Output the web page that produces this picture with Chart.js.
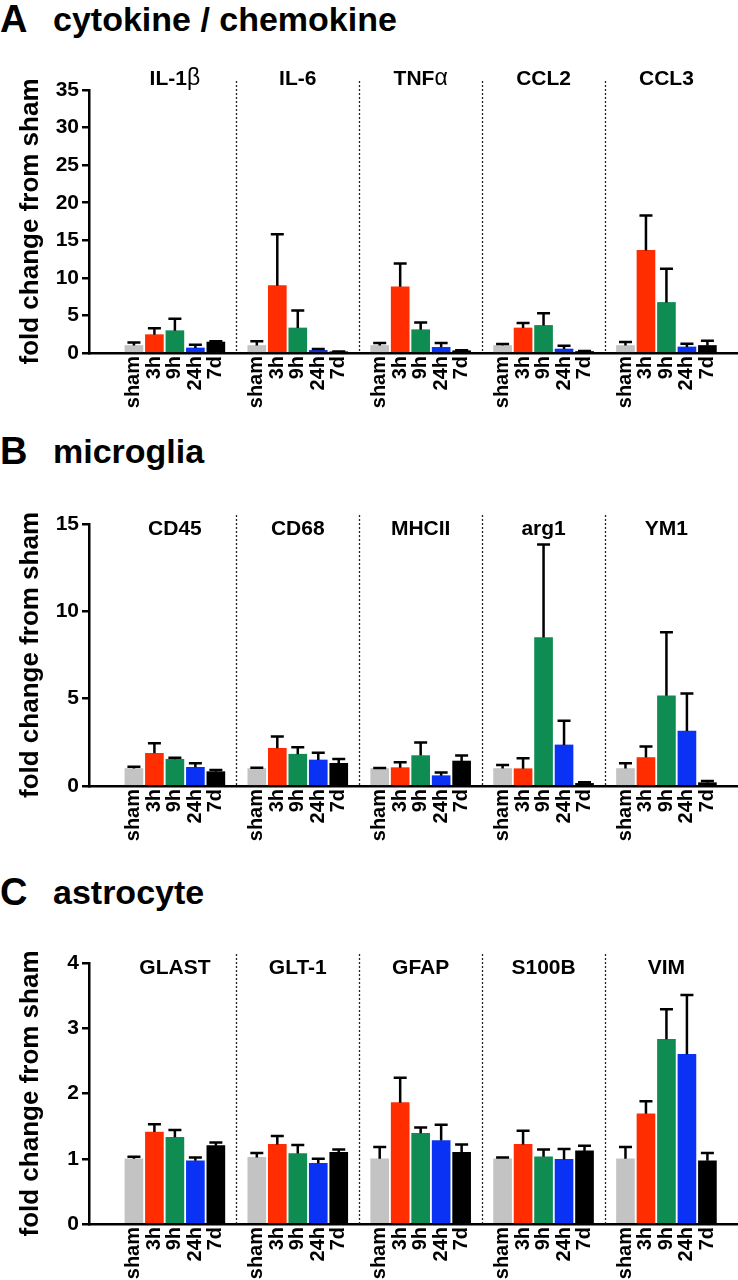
<!DOCTYPE html>
<html><head><meta charset="utf-8">
<script src="https://cdn.jsdelivr.net/npm/chart.js@4.4.1/dist/chart.umd.min.js"></script>
<style>
body{margin:0;background:#fff;width:738px;height:1280px;position:relative;overflow:hidden;font-family:"Liberation Sans",Arial,sans-serif;}
.ttl{position:absolute;font-weight:bold;color:#000;white-space:nowrap;line-height:1;}
.cv{position:absolute;left:0;width:738px;}
</style></head><body>
<div class="ttl" style="left:0;top:0;font-size:38px">A</div>
<div class="ttl" style="left:53px;top:2px;font-size:34px">cytokine / chemokine</div>
<div class="ttl" style="left:0;top:432px;font-size:38px">B</div>
<div class="ttl" style="left:53px;top:434px;font-size:34px">microglia</div>
<div class="ttl" style="left:0;top:873px;font-size:38px">C</div>
<div class="ttl" style="left:53px;top:875px;font-size:34px">astrocyte</div>
<div class="cv" style="top:45px;height:375px"><canvas id="cA"></canvas></div>
<div class="cv" style="top:470px;height:390px"><canvas id="cB"></canvas></div>
<div class="cv" style="top:910px;height:370px"><canvas id="cC"></canvas></div>
<script>
// ---- data ----
const timeLabels = ['sham', '3h', '9h', '24h', '7d'];

const genesA = ['IL-1β', 'IL-6', 'TNFα', 'CCL2', 'CCL3'];
const meanA = [
  [1.0, 2.44, 2.97, 0.67, 1.46],
  [1.0, 8.96, 3.33, 0.35, 0.13],
  [1.0, 8.8, 3.1, 0.75, 0.3],
  [1.0, 3.33, 3.67, 0.53, 0.2],
  [1.0, 13.65, 6.73, 0.8, 1.0]
];
const semA = [
  [0.4, 0.86, 1.6, 0.43, 0.09],
  [0.55, 6.84, 2.34, 0.18, 0.07],
  [0.33, 3.1, 0.97, 0.58, 0.05],
  [0.2, 0.67, 1.63, 0.44, 0.05],
  [0.46, 4.65, 4.47, 0.44, 0.64]
];
const yTicksA = [0, 5, 10, 15, 20, 25, 30, 35];

const genesB = ['CD45', 'CD68', 'MHCII', 'arg1', 'YM1'];
const meanB = [
  [1.0, 1.87, 1.53, 1.07, 0.82],
  [1.0, 2.16, 1.82, 1.49, 1.3],
  [1.0, 1.05, 1.74, 0.59, 1.43],
  [1.0, 0.99, 8.5, 2.35, 0.15],
  [1.0, 1.63, 5.16, 3.15, 0.19]
];
const semB = [
  [0.1, 0.58, 0.09, 0.23, 0.1],
  [0.05, 0.67, 0.4, 0.42, 0.25],
  [0.03, 0.31, 0.75, 0.19, 0.31],
  [0.2, 0.6, 5.32, 1.38, 0.06],
  [0.3, 0.63, 3.64, 2.15, 0.1]
];
const yTicksB = [0, 5, 10, 15];

const genesC = ['GLAST', 'GLT-1', 'GFAP', 'S100B', 'VIM'];
const meanC = [
  [1.0, 1.41, 1.33, 0.97, 1.2],
  [1.02, 1.22, 1.08, 0.93, 1.1],
  [1.0, 1.86, 1.39, 1.28, 1.1],
  [1.0, 1.22, 1.03, 0.99, 1.12],
  [1.0, 1.69, 2.83, 2.6, 0.97]
];
const semC = [
  [0.03, 0.12, 0.11, 0.05, 0.05],
  [0.07, 0.13, 0.13, 0.07, 0.04],
  [0.18, 0.38, 0.09, 0.24, 0.12],
  [0.02, 0.21, 0.11, 0.16, 0.08],
  [0.18, 0.19, 0.46, 0.91, 0.12]
];
const yTicksC = [0, 1, 2, 3, 4];

// ---- style ----
const barColors = ['#c3c3c3', '#ff2d00', '#0e8c52', '#0a32f5', '#000000'];
const FONT = '"Liberation Sans", Arial, sans-serif';
Chart.defaults.font.family = FONT;
Chart.defaults.color = '#000';

function overlayPlugin(genes, sem, labelDy) {
  return {
    id: 'overlay',
    afterDatasetsDraw(chart) {
      const ctx = chart.ctx, xs = chart.scales.x, ys = chart.scales.y, area = chart.chartArea;
      const meta = chart.getDatasetMeta(0);
      const raw = chart.data.datasets[0].data;
      ctx.save();
      // dotted separators
      ctx.strokeStyle = '#222';
      ctx.lineWidth = 1.3;
      ctx.setLineDash([2, 2]);
      for (let g = 1; g < genes.length; g++) {
        const x = Math.round(xs.getPixelForValue(g * 6)) + 0.5;
        ctx.beginPath();
        ctx.moveTo(x, area.top - 9);
        ctx.lineTo(x, area.bottom);
        ctx.stroke();
      }
      ctx.setLineDash([]);
      // error bars (mean + SEM)
      ctx.strokeStyle = '#000';
      ctx.lineWidth = 2.5;
      meta.data.forEach((el, i) => {
        const g = Math.floor(i / timeLabels.length), b = i % timeLabels.length;
        const yTop = ys.getPixelForValue(raw[i].y + sem[g][b]);
        ctx.beginPath();
        ctx.moveTo(el.x, el.y);
        ctx.lineTo(el.x, yTop);
        ctx.moveTo(el.x - 6.5, yTop);
        ctx.lineTo(el.x + 6.5, yTop);
        ctx.stroke();
      });
      // gene labels
      ctx.fillStyle = '#000';
      ctx.textBaseline = 'alphabetic';
      ctx.textAlign = 'left';
      genes.forEach((name, g) => {
        const cx = xs.getPixelForValue(g * 6 + 3);
        const m = name.match(/^(.*?)([\u0370-\u03ff]*)$/);
        const latin = m[1], greek = m[2];
        ctx.font = 'bold 21px ' + FONT;
        const w1 = ctx.measureText(latin).width;
        ctx.font = '23px ' + FONT;
        const w2 = greek ? ctx.measureText(greek).width : 0;
        const x0 = cx - (w1 + w2) / 2;
        const y = area.top + labelDy;
        ctx.font = 'bold 21px ' + FONT;
        ctx.fillText(latin, x0, y);
        if (greek) { ctx.font = '23px ' + FONT; ctx.fillText(greek, x0 + w1, y); }
      });
      ctx.restore();
    }
  };
}

function makeChart(id, genes, mean, sem, yTicks, pad, labelDy) {
  const points = [], colors = [];
  genes.forEach((gname, g) => {
    timeLabels.forEach((t, b) => {
      points.push({ x: g * 6 + 1 + b, y: mean[g][b] });
      colors.push(barColors[b]);
    });
  });
  const tickPositions = points.map(p => p.x);
  return new Chart(document.getElementById(id), {
    type: 'bar',
    data: { datasets: [{ data: points, backgroundColor: colors, borderWidth: 0, barThickness: 18 }] },
    options: {
      responsive: true,
      maintainAspectRatio: false,
      animation: false,
      layout: { padding: { top: pad.top, bottom: pad.bottom, left: 0, right: 0 } },
      plugins: { legend: { display: false }, tooltip: { enabled: false } },
      scales: {
        x: {
          type: 'linear',
          min: -0.56,
          max: 29.86,
          z: 1,
          afterBuildTicks: s => { s.ticks = tickPositions.map(v => ({ value: v })); },
          afterFit: s => { s.height = pad.axis; },
          grid: { drawOnChartArea: false, drawTicks: false },
          border: { display: true, color: '#000', width: 2.5 },
          ticks: {
            autoSkip: false,
            minRotation: 90,
            maxRotation: 90,
            padding: 3,
            color: '#000',
            font: { size: 20, weight: 'bold' },
            callback: v => timeLabels[(Math.round(v) - 1) % 6]
          }
        },
        y: {
          min: yTicks[0],
          max: yTicks[yTicks.length - 1],
          z: 1,
          afterBuildTicks: s => { s.ticks = yTicks.map(v => ({ value: v })); },
          afterFit: s => { s.width = 89; },
          grid: { drawOnChartArea: false, drawTicks: true, tickLength: 7, color: '#000', lineWidth: 2.5 },
          border: { display: true, color: '#000', width: 2.5 },
          ticks: { padding: 3, color: '#000', font: { size: 21, weight: 'bold' } },
          title: {
            display: true,
            text: 'fold change from sham',
            color: '#000',
            font: { size: 26, weight: 'bold' },
            padding: { top: 15, bottom: 0 }
          }
        }
      }
    },
    plugins: [overlayPlugin(genes, sem, labelDy)]
  });
}

makeChart('cA', genesA, meanA, semA, yTicksA, { top: 45, bottom: 7, axis: 60 }, -5);
makeChart('cB', genesB, meanB, semB, yTicksB, { top: 54, bottom: 14, axis: 60 }, 11);
makeChart('cC', genesC, meanC, semC, yTicksC, { top: 53, bottom: 0, axis: 56 }, 11);
</script>
</body></html>
